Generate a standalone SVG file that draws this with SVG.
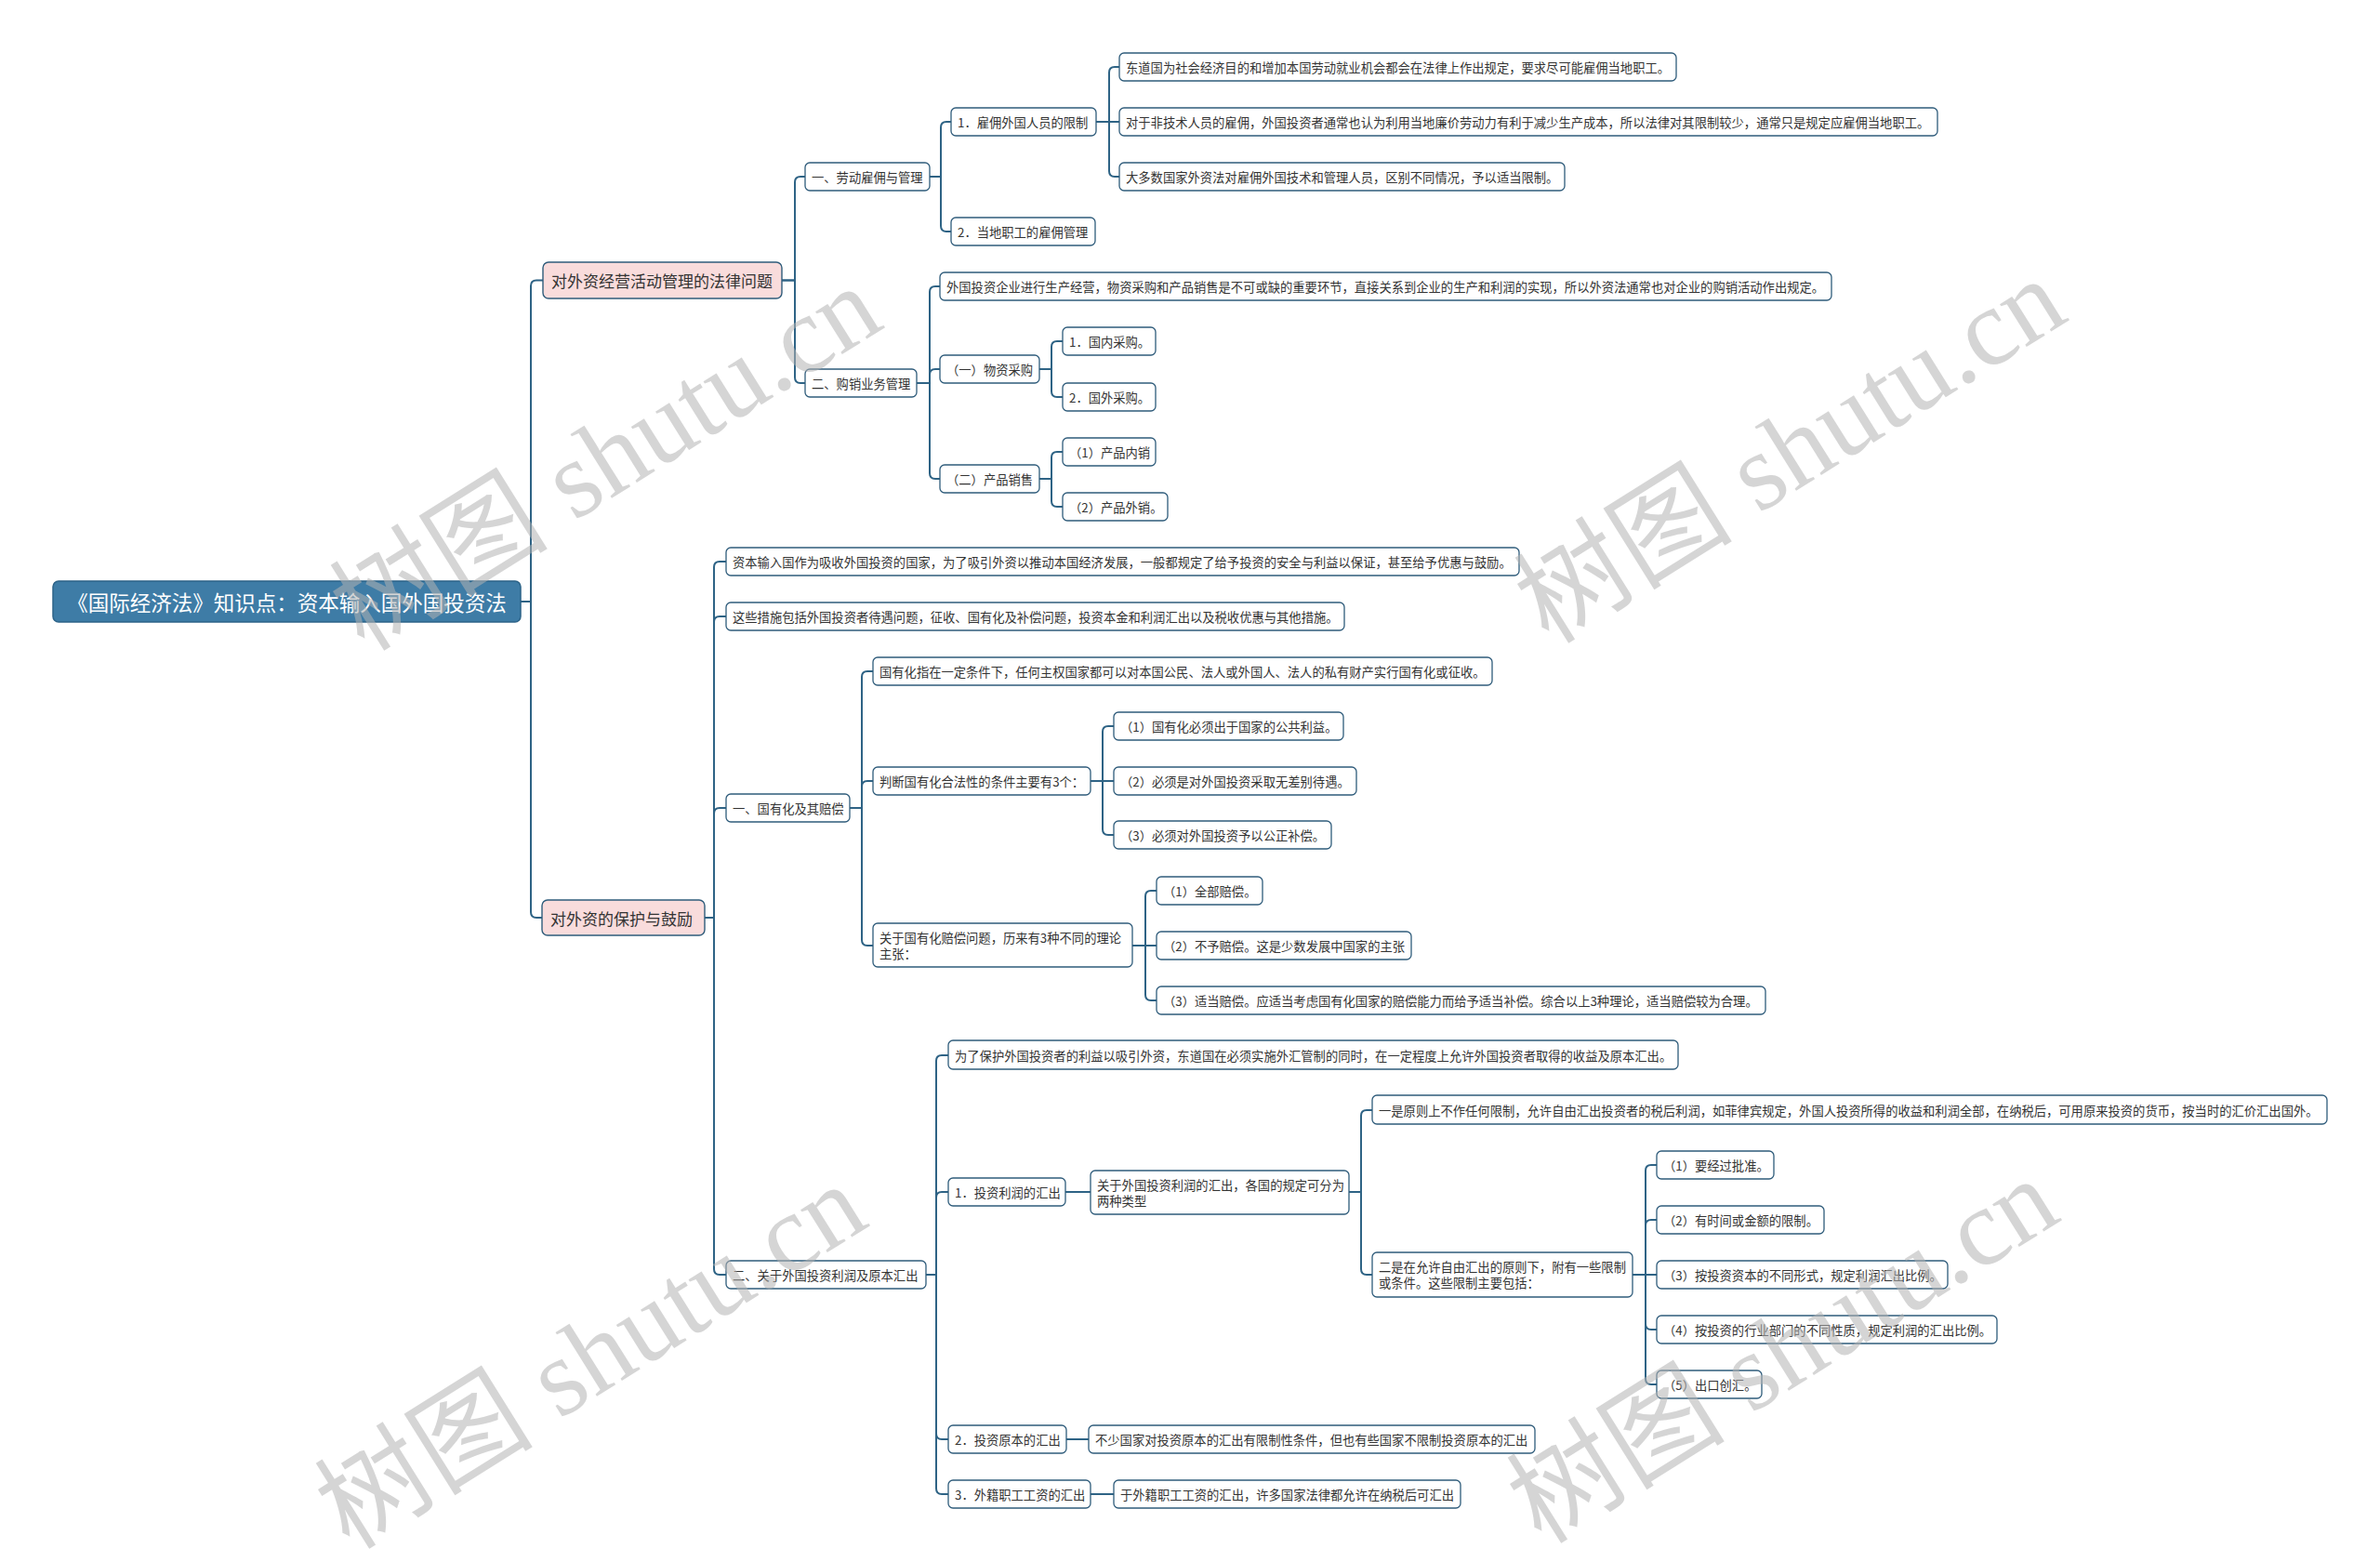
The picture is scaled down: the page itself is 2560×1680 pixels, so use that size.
<svg xmlns="http://www.w3.org/2000/svg" width="2560" height="1680" viewBox="0 0 2560 1680">
<style>
.bg{fill:#ffffff}
.n rect{fill:#ffffff;stroke:#2f5c7b;stroke-width:1.3}
.p rect{fill:#f9dcdc;stroke:#2f5c7b;stroke-width:1.4}
.r rect{fill:#3e7ca6;stroke:#2c6388;stroke-width:1.5}
text{font-family:"Noto Sans CJK SC","Noto Sans",sans-serif;dominant-baseline:central}
.n text{font-size:13.3px;fill:#333333}
.p text{font-size:17px;fill:#333333}
.r text{font-size:22.5px;fill:#ffffff;text-anchor:middle}
.l path{fill:none;stroke:#2e6385;stroke-width:2}
.w text{font-family:"Liberation Serif","Noto Sans CJK SC",serif;font-size:118px;fill:#b4b4b4;opacity:0.55;dominant-baseline:auto}
</style>
<rect class="bg" x="0" y="0" width="2560" height="1680"/>
<g id="connectors" class="l">
<path d="M560,647 H571 V307.5 Q571,301.5 577,301.5 H584"/>
<path d="M560,647 H571 V981 Q571,987 577,987 H583"/>
<path d="M841,301.5 H855 V196 Q855,190 861,190 H866"/>
<path d="M841,301.5 H855 V406 Q855,412 861,412 H866"/>
<path d="M1000,190 H1012 V137 Q1012,131 1018,131 H1023"/>
<path d="M1000,190 H1012 V243 Q1012,249 1018,249 H1023"/>
<path d="M1179,131 H1193 V78 Q1193,72 1199,72 H1204"/>
<path d="M1179,131 H1204"/>
<path d="M1179,131 H1193 V184 Q1193,190 1199,190 H1204"/>
<path d="M986,412 H1000 V314 Q1000,308 1006,308 H1011"/>
<path d="M986,412 H1000 V403 Q1000,397 1006,397 H1011"/>
<path d="M986,412 H1000 V509 Q1000,515 1006,515 H1011"/>
<path d="M1118,397 H1131 V373 Q1131,367 1137,367 H1143"/>
<path d="M1118,397 H1131 V421 Q1131,427 1137,427 H1143"/>
<path d="M1118,515 H1131 V492 Q1131,486 1137,486 H1143"/>
<path d="M1118,515 H1131 V539 Q1131,545 1137,545 H1143"/>
<path d="M758,987 H768 V610 Q768,604 774,604 H781"/>
<path d="M758,987 H768 V669 Q768,663 774,663 H781"/>
<path d="M758,987 H768 V875 Q768,869 774,869 H781"/>
<path d="M758,987 H768 V1365 Q768,1371 774,1371 H781"/>
<path d="M914,869 H927 V728 Q927,722 933,722 H939"/>
<path d="M914,869 H927 V846 Q927,840 933,840 H939"/>
<path d="M914,869 H927 V1011 Q927,1017 933,1017 H939"/>
<path d="M1173,840 H1186 V787 Q1186,781 1192,781 H1198"/>
<path d="M1173,840 H1198"/>
<path d="M1173,840 H1186 V892 Q1186,898 1192,898 H1198"/>
<path d="M1218,1017 H1232 V964 Q1232,958 1238,958 H1244"/>
<path d="M1218,1017 H1244"/>
<path d="M1218,1017 H1232 V1070 Q1232,1076 1238,1076 H1244"/>
<path d="M996,1371 H1007 V1141 Q1007,1135 1013,1135 H1020"/>
<path d="M996,1371 H1007 V1288 Q1007,1282 1013,1282 H1020"/>
<path d="M996,1371 H1007 V1542 Q1007,1548 1013,1548 H1020"/>
<path d="M996,1371 H1007 V1601 Q1007,1607 1013,1607 H1020"/>
<path d="M1146,1282 H1173"/>
<path d="M1451,1282 H1464 V1200 Q1464,1194 1470,1194 H1476"/>
<path d="M1451,1282 H1464 V1365 Q1464,1371 1470,1371 H1476"/>
<path d="M1756,1371 H1770 V1259 Q1770,1253 1776,1253 H1782"/>
<path d="M1756,1371 H1770 V1318 Q1770,1312 1776,1312 H1782"/>
<path d="M1756,1371 H1782"/>
<path d="M1756,1371 H1770 V1424 Q1770,1430 1776,1430 H1782"/>
<path d="M1756,1371 H1770 V1483 Q1770,1489 1776,1489 H1782"/>
<path d="M1147,1548 H1171"/>
<path d="M1173,1607 H1198"/>
</g>
<g id="root" class="r"><rect x="57" y="625" width="503" height="44" rx="6"/><text x="308.5" y="647">《国际经济法》知识点：资本输入国外国投资法</text></g>
<g id="l1a" class="p"><rect x="584" y="282" width="257" height="39" rx="6"/><text x="593" y="301.5">对外资经营活动管理的法律问题</text></g>
<g id="l1b" class="p"><rect x="583" y="968" width="175" height="38" rx="6"/><text x="592" y="987">对外资的保护与鼓励</text></g>
<g id="n1" class="n"><rect x="866" y="175" width="134" height="30" rx="5"/><text x="873" y="190">一、劳动雇佣与管理</text></g>
<g id="n2" class="n"><rect x="866" y="397" width="120" height="30" rx="5"/><text x="873" y="412">二、购销业务管理</text></g>
<g id="n3" class="n"><rect x="1023" y="116" width="156" height="30" rx="5"/><text x="1030" y="131">1．雇佣外国人员的限制</text></g>
<g id="n4" class="n"><rect x="1023" y="234" width="155" height="30" rx="5"/><text x="1030" y="249">2．当地职工的雇佣管理</text></g>
<g id="n5" class="n"><rect x="1204" y="57" width="599" height="30" rx="5"/><text x="1211" y="72">东道国为社会经济目的和增加本国劳动就业机会都会在法律上作出规定，要求尽可能雇佣当地职工。</text></g>
<g id="n6" class="n"><rect x="1204" y="116" width="880" height="30" rx="5"/><text x="1211" y="131">对于非技术人员的雇佣，外国投资者通常也认为利用当地廉价劳动力有利于减少生产成本，所以法律对其限制较少，通常只是规定应雇佣当地职工。</text></g>
<g id="n7" class="n"><rect x="1204" y="175" width="479" height="30" rx="5"/><text x="1211" y="190">大多数国家外资法对雇佣外国技术和管理人员，区别不同情况，予以适当限制。</text></g>
<g id="n8" class="n"><rect x="1011" y="293" width="959" height="30" rx="5"/><text x="1018" y="308">外国投资企业进行生产经营，物资采购和产品销售是不可或缺的重要环节，直接关系到企业的生产和利润的实现，所以外资法通常也对企业的购销活动作出规定。</text></g>
<g id="n9" class="n"><rect x="1011" y="382" width="107" height="30" rx="5"/><text x="1018" y="397">（一）物资采购</text></g>
<g id="n10" class="n"><rect x="1011" y="500" width="107" height="30" rx="5"/><text x="1018" y="515">（二）产品销售</text></g>
<g id="n11" class="n"><rect x="1143" y="352" width="100" height="30" rx="5"/><text x="1150" y="367">1．国内采购。</text></g>
<g id="n12" class="n"><rect x="1143" y="412" width="100" height="30" rx="5"/><text x="1150" y="427">2．国外采购。</text></g>
<g id="n13" class="n"><rect x="1143" y="471" width="100" height="30" rx="5"/><text x="1150" y="486">（1）产品内销</text></g>
<g id="n14" class="n"><rect x="1143" y="530" width="113" height="30" rx="5"/><text x="1150" y="545">（2）产品外销。</text></g>
<g id="n15" class="n"><rect x="781" y="589" width="853" height="30" rx="5"/><text x="788" y="604">资本输入国作为吸收外国投资的国家，为了吸引外资以推动本国经济发展，一般都规定了给予投资的安全与利益以保证，甚至给予优惠与鼓励。</text></g>
<g id="n16" class="n"><rect x="781" y="648" width="665" height="30" rx="5"/><text x="788" y="663">这些措施包括外国投资者待遇问题，征收、国有化及补偿问题，投资本金和利润汇出以及税收优惠与其他措施。</text></g>
<g id="n17" class="n"><rect x="781" y="854" width="133" height="30" rx="5"/><text x="788" y="869">一、国有化及其赔偿</text></g>
<g id="n18" class="n"><rect x="781" y="1356" width="215" height="30" rx="5"/><text x="788" y="1371">二、关于外国投资利润及原本汇出</text></g>
<g id="n19" class="n"><rect x="939" y="707" width="666" height="30" rx="5"/><text x="946" y="722">国有化指在一定条件下，任何主权国家都可以对本国公民、法人或外国人、法人的私有财产实行国有化或征收。</text></g>
<g id="n20" class="n"><rect x="939" y="825" width="234" height="30" rx="5"/><text x="946" y="840">判断国有化合法性的条件主要有3个：</text></g>
<g id="n21" class="n"><rect x="939" y="993" width="279" height="47" rx="5"/><text x="946" y="1008.5">关于国有化赔偿问题，历来有3种不同的理论</text><text x="946" y="1025.5">主张：</text></g>
<g id="n22" class="n"><rect x="1198" y="766" width="247" height="30" rx="5"/><text x="1205" y="781">（1）国有化必须出于国家的公共利益。</text></g>
<g id="n23" class="n"><rect x="1198" y="825" width="261" height="30" rx="5"/><text x="1205" y="840">（2）必须是对外国投资采取无差别待遇。</text></g>
<g id="n24" class="n"><rect x="1198" y="883" width="234" height="30" rx="5"/><text x="1205" y="898">（3）必须对外国投资予以公正补偿。</text></g>
<g id="n25" class="n"><rect x="1244" y="943" width="114" height="30" rx="5"/><text x="1251" y="958">（1）全部赔偿。</text></g>
<g id="n26" class="n"><rect x="1244" y="1002" width="274" height="30" rx="5"/><text x="1251" y="1017">（2）不予赔偿。这是少数发展中国家的主张</text></g>
<g id="n27" class="n"><rect x="1244" y="1061" width="655" height="30" rx="5"/><text x="1251" y="1076">（3）适当赔偿。应适当考虑国有化国家的赔偿能力而给予适当补偿。综合以上3种理论，适当赔偿较为合理。</text></g>
<g id="n28" class="n"><rect x="1020" y="1119" width="785" height="31" rx="5"/><text x="1027" y="1135">为了保护外国投资者的利益以吸引外资，东道国在必须实施外汇管制的同时，在一定程度上允许外国投资者取得的收益及原本汇出。</text></g>
<g id="n29" class="n"><rect x="1020" y="1267" width="126" height="30" rx="5"/><text x="1027" y="1282">1．投资利润的汇出</text></g>
<g id="n30" class="n"><rect x="1173" y="1259" width="278" height="47" rx="5"/><text x="1180" y="1274">关于外国投资利润的汇出，各国的规定可分为</text><text x="1180" y="1291">两种类型</text></g>
<g id="n31" class="n"><rect x="1476" y="1178" width="1027" height="31" rx="5"/><text x="1483" y="1194">一是原则上不作任何限制，允许自由汇出投资者的税后利润，如菲律宾规定，外国人投资所得的收益和利润全部，在纳税后，可用原来投资的货币，按当时的汇价汇出国外。</text></g>
<g id="n32" class="n"><rect x="1476" y="1347" width="280" height="48" rx="5"/><text x="1483" y="1362.5">二是在允许自由汇出的原则下，附有一些限制</text><text x="1483" y="1379.5">或条件。这些限制主要包括：</text></g>
<g id="n33" class="n"><rect x="1782" y="1238" width="126" height="30" rx="5"/><text x="1789" y="1253">（1）要经过批准。</text></g>
<g id="n34" class="n"><rect x="1782" y="1297" width="180" height="30" rx="5"/><text x="1789" y="1312">（2）有时间或金额的限制。</text></g>
<g id="n35" class="n"><rect x="1782" y="1356" width="313" height="30" rx="5"/><text x="1789" y="1371">（3）按投资资本的不同形式，规定利润汇出比例。</text></g>
<g id="n36" class="n"><rect x="1782" y="1415" width="366" height="30" rx="5"/><text x="1789" y="1430">（4）按投资的行业部门的不同性质，规定利润的汇出比例。</text></g>
<g id="n37" class="n"><rect x="1782" y="1474" width="113" height="30" rx="5"/><text x="1789" y="1489">（5）出口创汇。</text></g>
<g id="n38" class="n"><rect x="1020" y="1533" width="127" height="30" rx="5"/><text x="1027" y="1548">2．投资原本的汇出</text></g>
<g id="n39" class="n"><rect x="1171" y="1533" width="480" height="30" rx="5"/><text x="1178" y="1548">不少国家对投资原本的汇出有限制性条件，但也有些国家不限制投资原本的汇出</text></g>
<g id="n40" class="n"><rect x="1020" y="1592" width="153" height="30" rx="5"/><text x="1027" y="1607">3．外籍职工工资的汇出</text></g>
<g id="n41" class="n"><rect x="1198" y="1592" width="373" height="30" rx="5"/><text x="1205" y="1607">于外籍职工工资的汇出，许多国家法律都允许在纳税后可汇出</text></g>
<g id="watermarks" class="w">
<text transform="translate(392,702) rotate(-32)">树图 shutu.cn</text>
<text transform="translate(1666,694) rotate(-32)">树图 shutu.cn</text>
<text transform="translate(376,1668) rotate(-32)">树图 shutu.cn</text>
<text transform="translate(1658,1662) rotate(-32)">树图 shutu.cn</text>
</g>
</svg>
